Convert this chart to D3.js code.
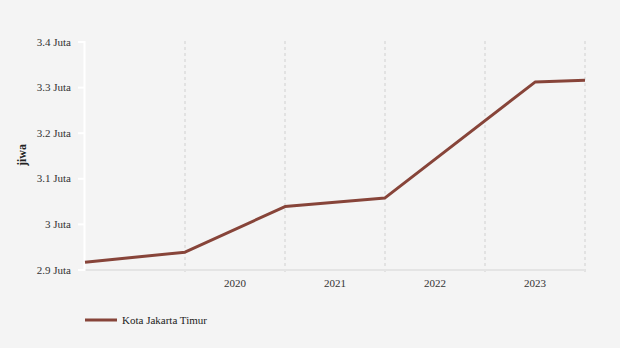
<!DOCTYPE html>
<html><head><meta charset="utf-8">
<script src="https://cdn.jsdelivr.net/npm/d3@7"></script>
<style>
html,body{margin:0;padding:0;background:#f4f4f4;}
svg{display:block;font-family:"Liberation Serif","Times New Roman",serif;}
</style></head><body>
<svg id="c" width="620" height="348"></svg>
<script>
// data (x positions expressed in year units along the axis)
const seriesName = "Kota Jakarta Timur";
const pointYears = [2018.5, 2019.5, 2020.5, 2021.5, 2023.0, 2023.5];
const pointValues = [2916000, 2938000, 3038000, 3057000, 3311000, 3315000];
const tickLabels = ["2020", "2021", "2022", "2023"];
const tickYears = [2020, 2021, 2022, 2023];
const gridYears = [2019.5, 2020.5, 2021.5, 2022.5, 2023.5];
const yTicks = [2900000, 3000000, 3100000, 3200000, 3300000, 3400000];
const yTitle = "jiwa";

const svg = d3.select("#c");
const x = d3.scaleLinear().domain([2018.5, 2023.5]).range([85, 585]);
const y = d3.scaleLinear().domain([2900000, 3400000]).range([269.5, 41.5]);
const fmt = v => (d3.format(".1~f")(v / 1e6)) + " Juta";

// vertical dashed gridlines
svg.append("g").selectAll("line").data(gridYears).join("line")
  .attr("x1", d => x(d)).attr("x2", d => x(d))
  .attr("y1", 41).attr("y2", 274)
  .attr("stroke", "#dcdcdc").attr("stroke-width", 1.5).attr("stroke-dasharray", "3,3");

// x axis line
svg.append("line").attr("x1", 85).attr("x2", 585).attr("y1", 270).attr("y2", 270)
  .attr("stroke", "#e4e4e4").attr("stroke-width", 2);

// x labels
svg.append("g").selectAll("text").data(tickYears).join("text")
  .attr("x", d => x(d)).attr("y", 287)
  .attr("text-anchor", "middle").attr("font-size", 11).attr("fill", "#333")
  .text((d, i) => tickLabels[i]);

// y axis
const yAxis = svg.append("g").attr("transform", "translate(84,0)")
  .call(d3.axisLeft(y).tickValues(yTicks).tickFormat(fmt).tickSize(6).tickPadding(7));
yAxis.select(".domain").attr("stroke", "#ffffff").attr("stroke-width", 2);
yAxis.selectAll(".tick line").attr("stroke", "#ffffff").attr("stroke-width", 2);
yAxis.selectAll("text").attr("font-size", 11).attr("fill", "#333")
  .attr("font-family", "'Liberation Serif','Times New Roman',serif");

// y title
svg.append("text").attr("transform", "translate(26,155) rotate(-90)")
  .attr("text-anchor", "middle").attr("font-size", 12).attr("font-weight", "bold")
  .attr("fill", "#222").text(yTitle);

// line
const pts = pointYears.map((d, i) => [d, pointValues[i]]);
svg.append("path").datum(pts)
  .attr("d", d3.line().x(d => x(d[0])).y(d => y(d[1])))
  .attr("fill", "none").attr("stroke", "#874439").attr("stroke-width", 3)
  .attr("stroke-linejoin", "round");

// legend
svg.append("line").attr("x1", 85).attr("x2", 117).attr("y1", 320).attr("y2", 320)
  .attr("stroke", "#874439").attr("stroke-width", 3);
svg.append("text").attr("x", 122).attr("y", 324).attr("font-size", 11)
  .attr("fill", "#222").text(seriesName);
</script>
</body></html>
